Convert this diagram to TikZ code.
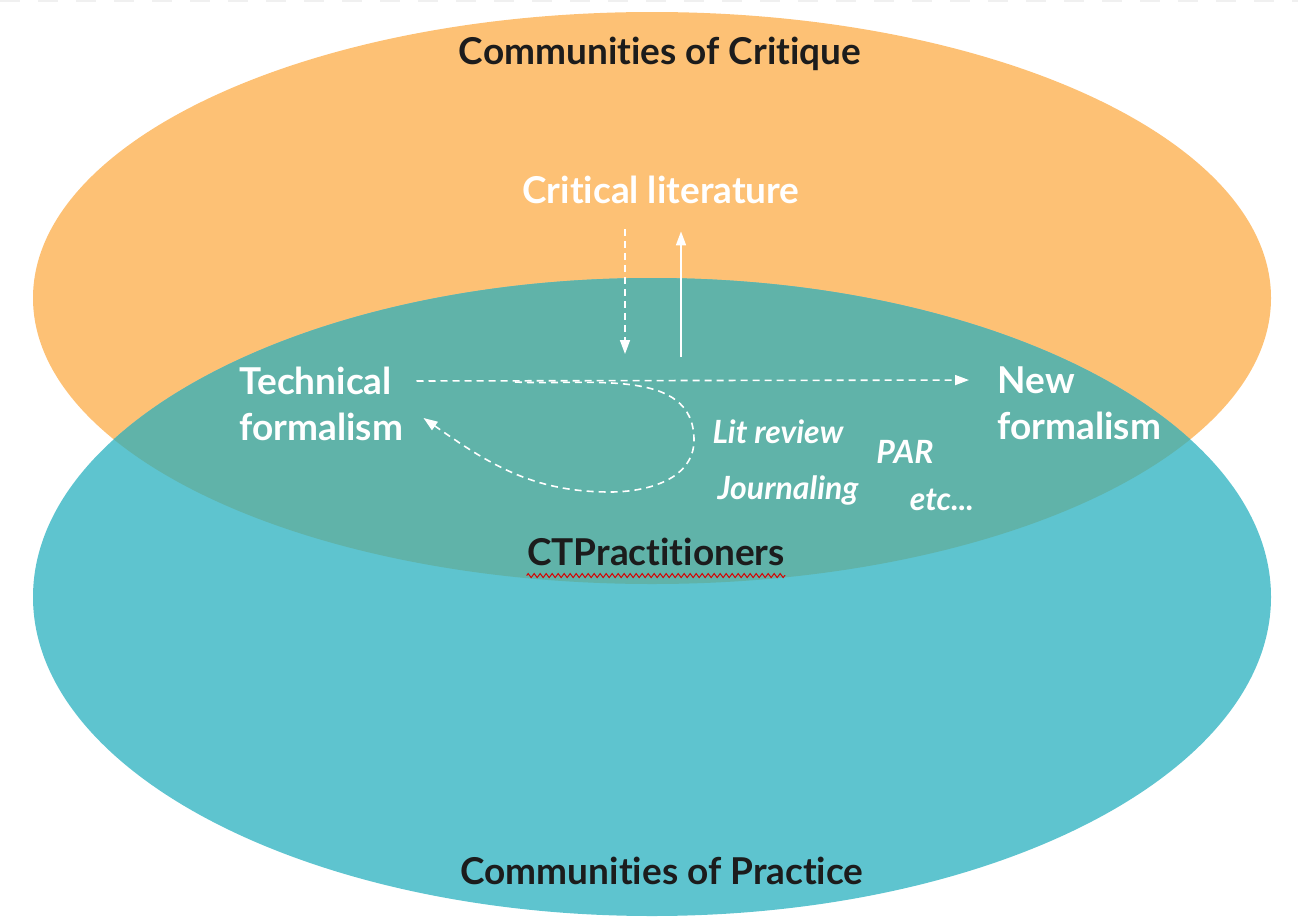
\documentclass[tikz,border=0pt]{standalone}
\usepackage{fontspec}
\setmainfont{Lato}[Ligatures=NoCommon]
\usepackage{tikz}
\usetikzlibrary{arrows.meta, positioning, decorations.pathmorphing}
\definecolor{critorange}{RGB}{253,193,117}
\definecolor{practeal}{RGB}{94,196,207}
\definecolor{overlapteal}{RGB}{96,179,169}
\definecolor{darktext}{RGB}{28,28,28}

\begin{document}
\begin{tikzpicture}[x=1pt, y=-1pt, >={Triangle[width=10pt,length=14pt]},
    title/.style={font=\fontsize{37}{44}\selectfont\bfseries, text=darktext},
    label/.style={font=\fontsize{37}{46}\selectfont\bfseries, text=white, align=left},
    method/.style={font=\fontsize{32}{38}\selectfont\bfseries\itshape, text=white},
    flow/.style={->, white, line width=1.6pt, dash pattern=on 7pt off 5pt}]
    \useasboundingbox (0,0) rectangle (1298,921);
    \draw[gray!12, line width=2pt, dash pattern=on 20pt off 18pt] (0,1) -- (1298,1);
    % the two communities
    \fill[critorange] (652,298) ellipse [x radius=619, y radius=286];
    \fill[practeal] (652,597) ellipse [x radius=619, y radius=319];
    \begin{scope}
        \clip (652,298) ellipse [x radius=619, y radius=286];
        \fill[overlapteal] (652,597) ellipse [x radius=619, y radius=319];
    \end{scope}
    \node[title] (critique) at (660,54) {Communities of Critique};
    \node[title] (practice) at (662,871) {Communities of Practice};
    \node[title] (ctp) at (656,552) {CTPractitioners};
    \draw[red!85!black, line width=1pt, decorate, decoration={zigzag, segment length=6pt, amplitude=2pt}]
        ([xshift=3pt, yshift=-10pt]ctp.base west) -- ([xshift=-3pt, yshift=-10pt]ctp.base east);
    % texts inside
    \node[label] (lit) at (661,190) {Critical literature};
    \node[label, anchor=west] (tech) at (236,404) {Technical\\formalism};
    \node[label, anchor=west] (new) at (994,403) {New\\formalism};
    \node[method] (litrev) at (778,432) {Lit review};
    \node[method] (par) at (905,452) {PAR};
    \node[method] (journal) at (788,490) {Journaling};
    \node[method] (etc) at (942,500) {etc...};
    % arrows
    \coordinate (downend) at (625,354);
    \coordinate (upstart) at (681,357);
    \coordinate (loopstart) at (515,382);
    \draw[flow, shorten <=22pt] (lit.south -| downend) -- (downend);
    \draw[->, white, line width=1.6pt, shorten >=24pt] (upstart) -- (lit.south -| upstart);
    \draw[flow, shorten <=10pt, shorten >=25pt] ([yshift=23pt]tech.east) -- ([yshift=23pt]new.west);
    \draw[flow] (loopstart) to[out=-3, in=90] (694,440) to[out=-90, in=0] (610,492)
        to[out=180, in=-35] ([xshift=17pt, yshift=-14pt]tech.east);
\end{tikzpicture}
\end{document}
